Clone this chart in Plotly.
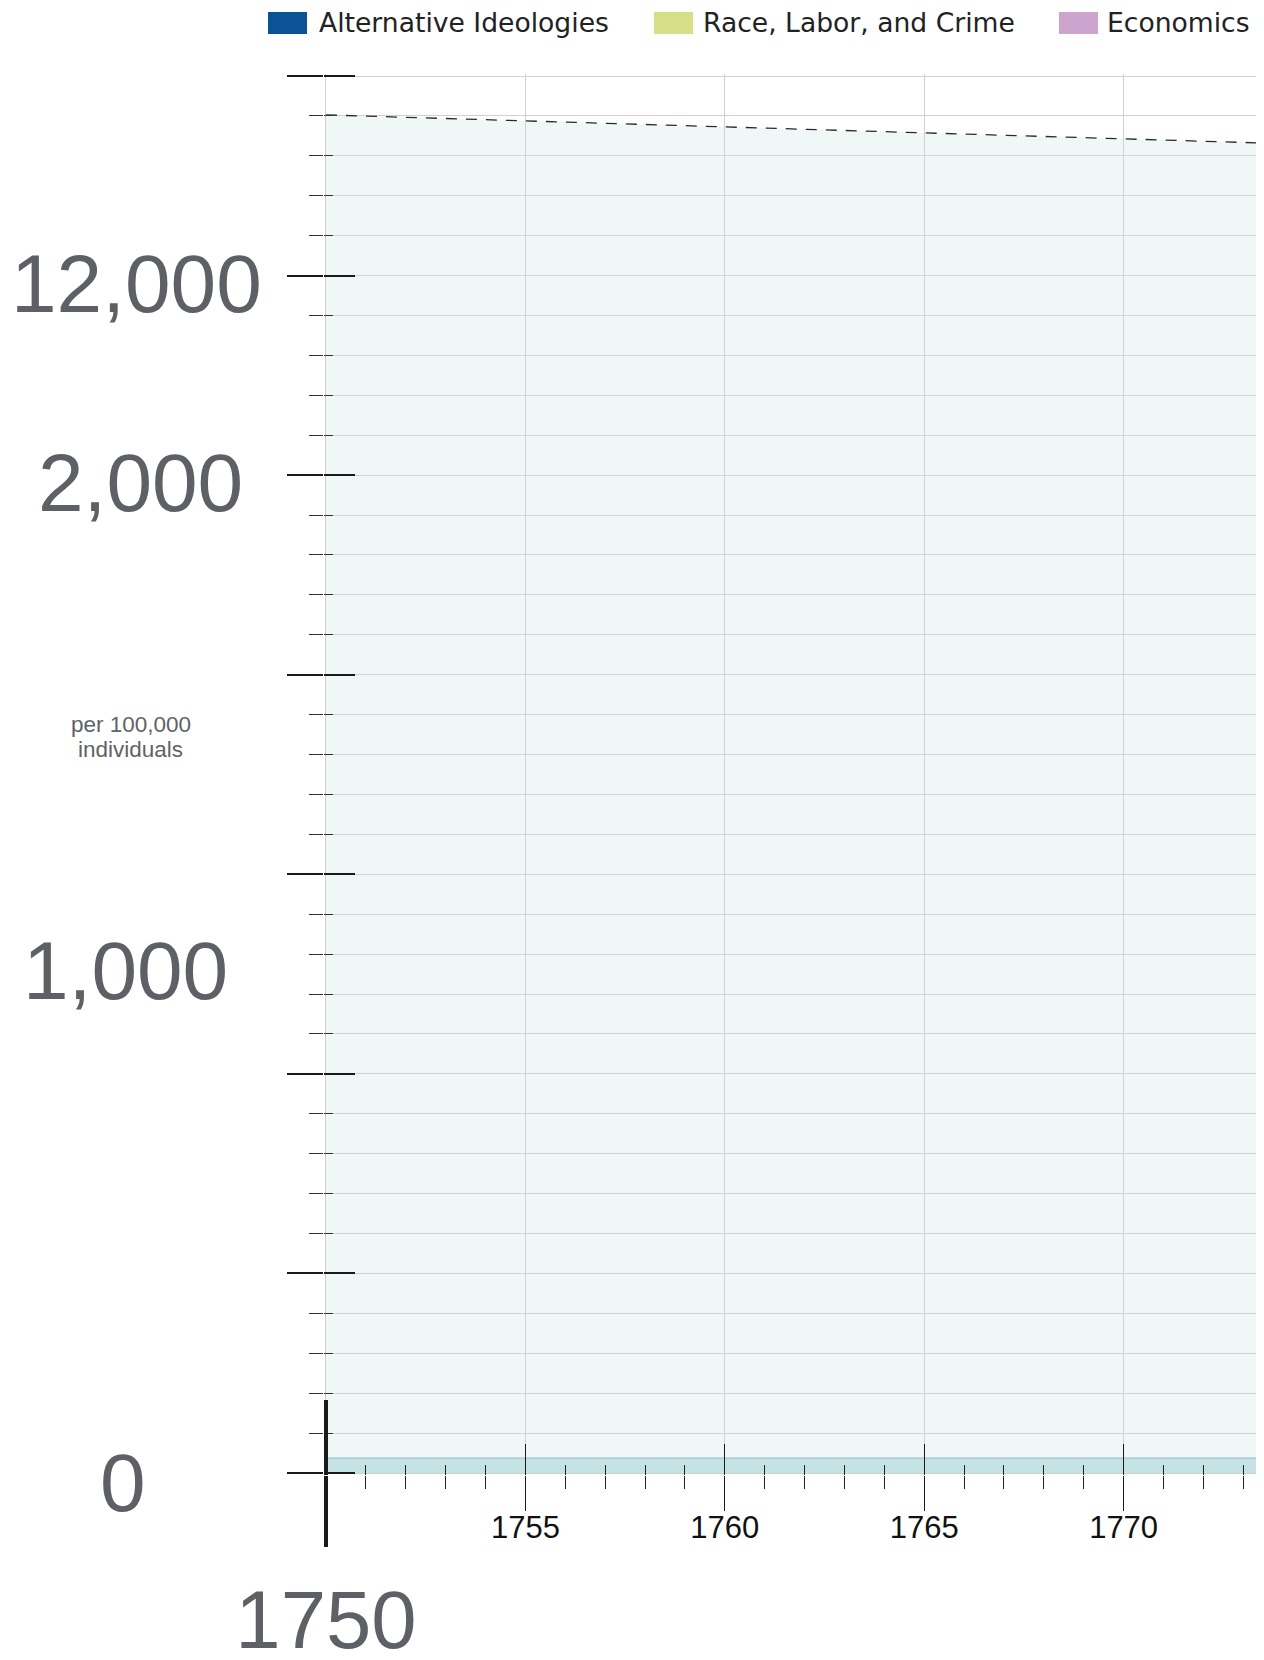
import plotly.graph_objects as go

# ---------------- data ----------------
years = [1750, 1755, 1760, 1765, 1770, 1775]
total_rate = [13610, 13550, 13490, 13430, 13370, 13310]
base_rate = [150, 150, 150, 150, 150, 150]

legend_names = ["Alternative Ideologies", "Race, Labor, and Crime", "Economics"]
legend_colors = ["#0b5394", "#d6df86", "#cda4cd"]

x_tick_years = [1755, 1760, 1765, 1770]
x_tick_text = ["1755", "1760", "1765", "1770"]
first_year = [1750]
first_year_text = ["1750"]

y_label_vals = [12000, 10000, 5000, 0]
y_label_text = ["12,000", "2,000", "1,000", "0"]
y_title_lines = ["per 100,000", "individuals"]

# ---------------- layout / style ----------------
OFF = 8  # page body margin
W, H = 1256, 1652
L, R, T, B = 316, 0, 66, 185
PW, PH = W - L - R, H - T - B
X_RANGE = [1749.95, 1773.52]
Y_RANGE = [-20, 14020]

GRID = "#d0d0d0"
TICK = "#1a1a1a"
LABEL_GREY = "#5d6065"
ARIAL = "Liberation Sans, Arial, sans-serif"
VERDANA = "DejaVu Sans, Verdana, sans-serif"


def px_x(page_px):
    return (page_px - OFF - L) / PW


def px_y(page_py):
    return (H - B - (page_py - OFF)) / PH


fig = go.Figure()

fig.add_trace(go.Scatter(
    x=years, y=total_rate, mode="lines", name="All records",
    line=dict(color="#2a2a2a", width=1.3, dash="11px,9px"),
    fill="tozeroy", fillcolor="rgba(200,230,228,0.28)",
    showlegend=False, hoverinfo="skip"))

fig.add_trace(go.Scatter(
    x=years, y=base_rate, mode="lines", name="Other",
    line=dict(color="#9ec4c6", width=1.2),
    fill="tozeroy", fillcolor="#c5e3e5",
    showlegend=False, hoverinfo="skip"))

# empty traces so that the overlaid tick axes are drawn
for xa, ya in [("x2", "y"), ("x3", "y"), ("x4", "y"), ("x", "y2")]:
    fig.add_trace(go.Scatter(x=[], y=[], xaxis=xa, yaxis=ya, mode="lines",
                             showlegend=False, hoverinfo="skip"))

# y tick labels (centered in the left margin)
label_cx = [136, 140, 125, 123]
label_shift = [-8, -7, 4, -9]
annotations = []
for v, t, cx, sh in zip(y_label_vals, y_label_text, label_cx, label_shift):
    annotations.append(dict(
        text=t, x=px_x(cx), xref="paper", y=v, yref="y", yshift=sh,
        xanchor="center", yanchor="middle", showarrow=False,
        font=dict(family=ARIAL, size=82, color=LABEL_GREY)))

for line_text, cy in zip(y_title_lines, [724, 749.5]):
    annotations.append(dict(
        text=line_text, x=px_x(130.5), xref="paper", y=px_y(cy), yref="paper",
        xanchor="center", yanchor="middle", showarrow=False,
        font=dict(family=ARIAL, size=22.5, color="#5f6368")))

# legend row
swatch_left = [268, 654, 1059]
text_left = [320, 704, 1108]
shapes = []
for name, col, sx, tx in zip(legend_names, legend_colors, swatch_left, text_left):
    shapes.append(dict(type="rect", xref="paper", yref="paper",
                       x0=px_x(sx), x1=px_x(sx + 39), y0=px_y(34), y1=px_y(12),
                       fillcolor=col, line=dict(width=0), layer="above"))
    annotations.append(dict(
        text=name, x=px_x(tx - 3), xref="paper", y=px_y(23), yref="paper",
        xanchor="left", yanchor="middle", showarrow=False,
        font=dict(family=VERDANA, size=26.6, color="#222222")))

common_x = dict(range=X_RANGE, zeroline=False, fixedrange=True, automargin=False)
common_y = dict(range=Y_RANGE, zeroline=False, fixedrange=True, automargin=False)

fig.update_layout(
    width=W, height=H,
    margin=dict(l=L, r=R, t=T, b=B, pad=0, autoexpand=False),
    paper_bgcolor="white", plot_bgcolor="white",
    showlegend=False,
    xaxis=dict(**common_x, tickmode="array", tickvals=x_tick_years, ticktext=x_tick_text,
               ticks="outside", ticklen=35, tickwidth=1.3, tickcolor=TICK,
               ticklabelstandoff=-10,
               tickfont=dict(family=ARIAL, size=31, color="#111111"),
               showgrid=True, gridcolor=GRID, gridwidth=1,
               minor=dict(tick0=1750, dtick=1, ticks="outside", ticklen=13,
                          tickwidth=1.2, tickcolor="#222222", showgrid=False)),
    xaxis2=dict(**common_x, overlaying="x", anchor="y", tickmode="array",
                tickvals=x_tick_years, showticklabels=False,
                ticks="inside", ticklen=31, tickwidth=1.3, tickcolor=TICK, showgrid=False,
                minor=dict(tick0=1750, dtick=1, ticks="inside", ticklen=10,
                           tickwidth=1.2, tickcolor="#222222", showgrid=False)),
    xaxis3=dict(**common_x, overlaying="x", anchor="y", tickmode="array",
                tickvals=first_year, ticktext=first_year_text,
                ticks="outside", ticklen=71, tickwidth=4, tickcolor=TICK,
                ticklabelstandoff=3,
                tickfont=dict(family=ARIAL, size=81.5, color=LABEL_GREY),
                showgrid=True, gridcolor=GRID, gridwidth=1),
    xaxis4=dict(**common_x, overlaying="x", anchor="y", tickmode="array",
                tickvals=first_year, showticklabels=False,
                ticks="inside", ticklen=75, tickwidth=4, tickcolor=TICK, showgrid=False),
    yaxis=dict(**common_y, tickmode="linear", tick0=0, dtick=2000, showticklabels=False,
               ticks="outside", ticklen=36, tickwidth=1.6, tickcolor=TICK,
               showgrid=True, gridcolor=GRID, gridwidth=1,
               minor=dict(tick0=0, dtick=400, ticks="outside", ticklen=14, tickwidth=1.3,
                          tickcolor="#333333", showgrid=True, gridcolor=GRID, gridwidth=1)),
    yaxis2=dict(**common_y, overlaying="y", anchor="x", tickmode="linear", tick0=0,
                dtick=2000, showticklabels=False, showgrid=False,
                ticks="inside", ticklen=31, tickwidth=1.6, tickcolor=TICK,
                minor=dict(tick0=0, dtick=400, ticks="inside", ticklen=9, tickwidth=1.3,
                           tickcolor="#333333", showgrid=False)),
    annotations=annotations,
    shapes=shapes,
)

fig.write_html("out.html")
